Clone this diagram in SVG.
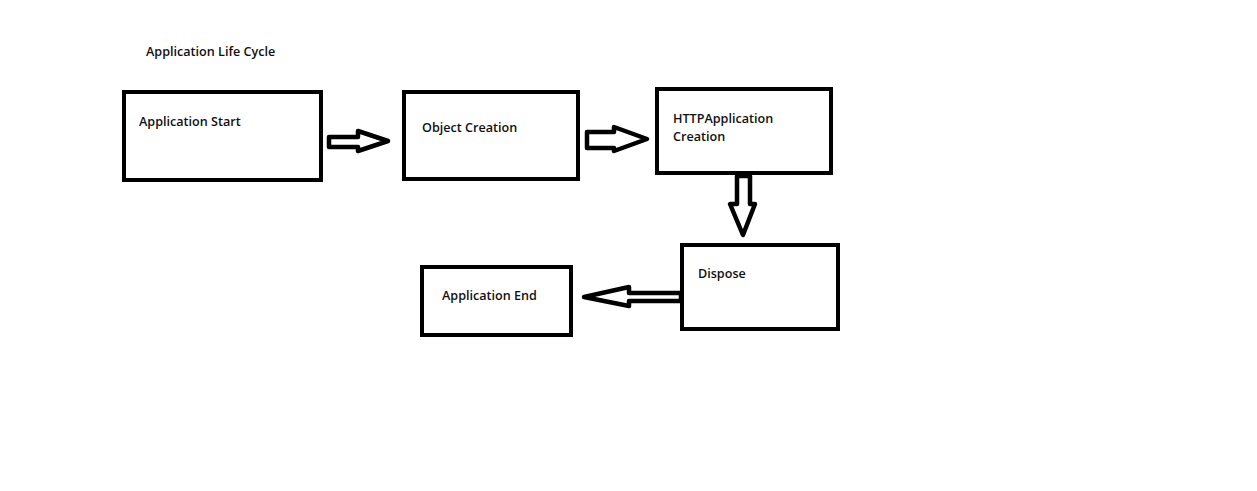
<svg xmlns="http://www.w3.org/2000/svg" width="1257" height="491" viewBox="0 0 1257 491">
<style>
.box{fill:#fff;stroke:#000;stroke-width:4}
.arr{fill:#fff;stroke:#000;stroke-width:4.5;stroke-linejoin:round}
text{font-family:"Open Sans","Liberation Sans",sans-serif;font-size:12.6px;font-weight:600;fill:#111}
</style>
<rect width="1257" height="491" fill="#fff"/>
<text x="146" y="56">Application Life Cycle</text>
<g id="connectors">
<polygon class="arr" points="329,137 358,137 358,131 388,141 358,151 358,147 329,147"/>
<polygon class="arr" points="587,132 614,132 614,127 647,139 614,151 614,148 587,148"/>
<polygon class="arr" points="737,176 750,176 750,204 755,204 743,235 730,204 737,204"/>
<polygon class="arr" points="681,293 629,293 629,287 584,297 629,306 629,301 681,301"/>
</g>
<g id="app-start"><rect class="box" x="124" y="92" width="197" height="88"/><text x="139" y="126">Application Start</text></g>
<g id="object-creation"><rect class="box" x="404" y="92" width="174" height="87"/><text x="422" y="132">Object Creation</text></g>
<g id="httpapp-creation"><rect class="box" x="657" y="89" width="174" height="84"/><text x="673" y="123">HTTPApplication</text><text x="673" y="141">Creation</text></g>
<g id="dispose"><rect class="box" x="682" y="245" width="156" height="84"/><text x="698" y="278">Dispose</text></g>
<g id="app-end"><rect class="box" x="422" y="267" width="149" height="68"/><text x="442" y="300">Application End</text></g>
</svg>
